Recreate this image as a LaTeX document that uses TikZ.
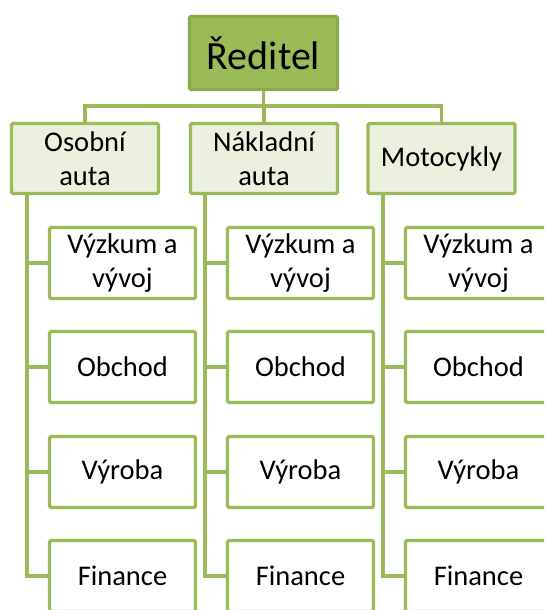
\documentclass[tikz,border=0pt]{standalone}
\usepackage{fontspec}
\setmainfont{Carlito}
\definecolor{olive}{HTML}{9BBB59}
\definecolor{olivedark}{HTML}{8BAB4B}
\definecolor{olivelight}{HTML}{EBF1DE}
\tikzset{
  box/.style={draw=olive, line width=3.4pt, rounded corners=1.5pt, align=center,
    inner sep=0pt, text=black},
  topbox/.style={box, fill=olive, draw=olivedark, minimum width=148pt, minimum height=73pt,
    font=\fontsize{40}{46}\selectfont},
  headbox/.style={box, fill=olivelight, minimum width=147pt, minimum height=70pt,
    font=\fontsize{28.5}{34}\selectfont},
  unitbox/.style={box, fill=white, minimum width=146pt, minimum height=71pt,
    font=\fontsize{28.5}{34}\selectfont},
  link/.style={draw=olive, line width=3.4pt}
}
\begin{document}
\begin{tikzpicture}[x=1pt, y=-1pt]
\useasboundingbox (0,0) rectangle (544,610);
\clip (0,0) rectangle (544,610);
\fill[white] (0,0) rectangle (544,610);

% director
\node[topbox] (dir) at (263.5,53) {Ředitel};

% divisions
\node[headbox] (h1) at (85,158.5) {Osobní\\auta};
\node[headbox] (h2) at (264,158.5) {Nákladní\\auta};
\node[headbox] (h3) at (441.5,158.5) {Motocykly};

% bus between director and divisions
\coordinate (bus) at (0,106);
\draw[link] (dir.south) -- (dir.south |- bus);
\draw[link] (h1.north) -- (h1.north |- bus) -- (h3.north |- bus) -- (h3.north);
\draw[link] (h2.north) -- (h2.north |- bus);

% departments of each division
\foreach \c/\cx/\sx in {1/122.5/27, 2/300.5/205, 3/478.5/383} {
  \node[unitbox] (u\c a) at (\cx,263) {Výzkum a\\vývoj};
  \node[unitbox] (u\c b) at (\cx,367) {Obchod};
  \node[unitbox] (u\c c) at (\cx,472) {Výroba};
  \node[unitbox] (u\c d) at (\cx,576) {Finance};
  \coordinate (s\c) at (\sx,0);
  \draw[link] (h\c.south -| s\c) |- (u\c d.west);
  \draw[link] (u\c a.west) -- (u\c a.west -| s\c);
  \draw[link] (u\c b.west) -- (u\c b.west -| s\c);
  \draw[link] (u\c c.west) -- (u\c c.west -| s\c);
}
\end{tikzpicture}
\end{document}
